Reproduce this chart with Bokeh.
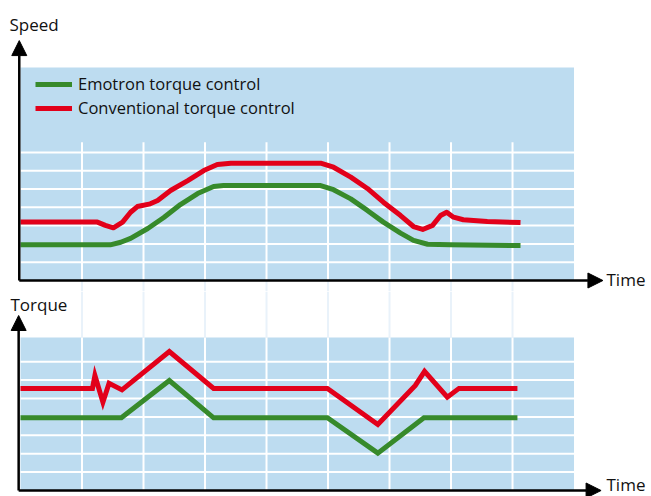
from bokeh.plotting import figure
from bokeh.models import Range1d, Arrow, NormalHead, Label, Legend, LegendItem
from bokeh.layouts import column
from bokeh.embed import file_html
from bokeh.resources import INLINE

# ---- data (time and values in grid units) ----
time_grid = [1, 2, 3, 4, 5, 6, 7, 8]
speed_grid = [1, 2, 3, 4, 5, 6, 7]
torque_grid = [1, 2, 3, 4, 5, 6, 7]

speed_emotron_t = [0, 1.46, 1.63, 1.79, 2.07, 2.33, 2.60, 2.88, 3.14, 3.30, 4.88, 5.09, 5.37, 5.64, 5.90, 6.18, 6.39, 6.62, 6.99, 8.13]
speed_emotron_v = [1.95, 1.95, 2.09, 2.30, 2.84, 3.44, 4.15, 4.75, 5.14, 5.19, 5.19, 4.96, 4.46, 3.83, 3.19, 2.59, 2.19, 1.98, 1.95, 1.91]

speed_conv_t = [0, 1.25, 1.38, 1.51, 1.66, 1.79, 1.90, 2.11, 2.23, 2.44, 2.72, 2.98, 3.20, 3.42, 4.88, 5.09, 5.37, 5.64, 5.90, 6.18, 6.39, 6.54, 6.70, 6.83, 6.93, 7.04, 7.20, 7.59, 8.13]
speed_conv_v = [3.19, 3.19, 3.01, 2.88, 3.19, 3.73, 4.04, 4.19, 4.37, 4.92, 5.46, 6.01, 6.34, 6.41, 6.41, 6.19, 5.65, 5.03, 4.28, 3.55, 2.95, 2.79, 3.01, 3.55, 3.73, 3.46, 3.32, 3.22, 3.17]

torque_emotron_t = [0, 1.64, 2.42, 3.14, 4.99, 5.81, 6.56, 8.08]
torque_emotron_v = [3.95, 3.95, 5.98, 3.95, 3.95, 2.03, 3.95, 3.95]

torque_conv_t = [0, 1.17, 1.21, 1.34, 1.44, 1.65, 2.42, 3.14, 4.99, 5.81, 6.42, 6.57, 6.94, 7.13, 8.08]
torque_conv_v = [5.55, 5.55, 6.25, 4.80, 5.83, 5.47, 7.55, 5.55, 5.55, 3.59, 5.71, 6.48, 5.07, 5.55, 5.55]

labels = ["Emotron torque control", "Conventional torque control"]

# ---- style ----
GREEN = "#378a2b"
RED = "#e2001a"
BLUE = "#bddcf0"
FAINT = "#e9f2fa"
FONT = "Open Sans"
W = 648
XR = (-0.3252, 10.211)
T_END = 9


def make_fig(h, yr):
    p = figure(width=W, height=h, x_range=Range1d(*XR), y_range=Range1d(*yr),
               output_backend="svg", toolbar_location=None, min_border=0,
               x_axis_location=None, y_axis_location=None, title=None)
    p.grid.visible = False
    p.outline_line_color = None
    p.background_fill_color = "white"
    p.border_fill_color = "white"
    return p


def panel(p, top, vgrid_top, hgrid, ymin, ymax, faint_above):
    p.quad(left=0, right=T_END, bottom=0, top=top, fill_color=BLUE, line_color=None)
    p.segment(x0=0, x1=T_END, y0=hgrid, y1=hgrid, line_color="white", line_width=2)
    p.segment(x0=time_grid, x1=time_grid, y0=0, y1=vgrid_top, line_color="white", line_width=2)
    if faint_above:
        p.segment(x0=time_grid, x1=time_grid, y0=top, y1=ymax, line_color=FAINT, line_width=2)
    else:
        p.segment(x0=time_grid, x1=time_grid, y0=ymin, y1=0, line_color=FAINT, line_width=2)


def axes(p, x0, ytip, xtip, ylab, ylab_x, ylab_y, time_x, time_y):
    p.add_layout(Arrow(x_start=x0, y_start=0, x_end=x0, y_end=ytip, line_width=2.5,
                       end=NormalHead(size=15, fill_color="black", line_color="black")))
    p.add_layout(Arrow(x_start=x0, y_start=0, x_end=xtip, y_end=0, line_width=2.5,
                       end=NormalHead(size=15, fill_color="black", line_color="black")))
    p.add_layout(Label(x=ylab_x, y=ylab_y, text=ylab, text_font=FONT, text_font_size="17px",
                       text_baseline="alphabetic", text_color="#111111"))
    p.add_layout(Label(x=time_x, y=time_y, text="Time", text_font=FONT, text_font_size="17px",
                       text_baseline="alphabetic", text_color="#111111"))


# ---- top: speed ----
YR1 = (-0.601, 15.30)
p1 = make_fig(291, YR1)
panel(p1, 11.64, 7.55, speed_grid, YR1[0], YR1[1], False)
g1 = p1.line(speed_emotron_t, speed_emotron_v, line_color=GREEN, line_width=5, line_join="round")
r1 = p1.line(speed_conv_t, speed_conv_v, line_color=RED, line_width=5, line_join="round")
axes(p1, -0.02, 13.11, 9.47, "Speed", -0.179, 13.99, 9.528, 0.06)

legend = Legend(items=[LegendItem(label=labels[0], renderers=[g1]),
                       LegendItem(label=labels[1], renderers=[r1])],
                location=(35, 172), orientation="vertical",
                padding=0, margin=0, spacing=1, glyph_width=37, glyph_height=20,
                label_height=20, label_standoff=6,
                label_text_font=FONT, label_text_font_size="16.5px", label_text_color="#111111",
                background_fill_alpha=0, border_line_color=None)
p1.add_layout(legend)

# ---- bottom: torque ----
YR2 = (-0.326, 10.815)
p2 = make_fig(205, YR2)
panel(p2, 8.32, 8.32, torque_grid, YR2[0], YR2[1], True)
p2.line(torque_emotron_t, torque_emotron_v, line_color=GREEN, line_width=5, line_join="miter")
p2.line(torque_conv_t, torque_conv_v, line_color=RED, line_width=5, line_join="miter")
axes(p2, -0.03, 9.51, 9.44, "Torque", -0.163, 10.10, 9.528, 0.34)

layout = column(p1, p2, spacing=0)
open("out.html", "w").write(file_html(layout, INLINE))
